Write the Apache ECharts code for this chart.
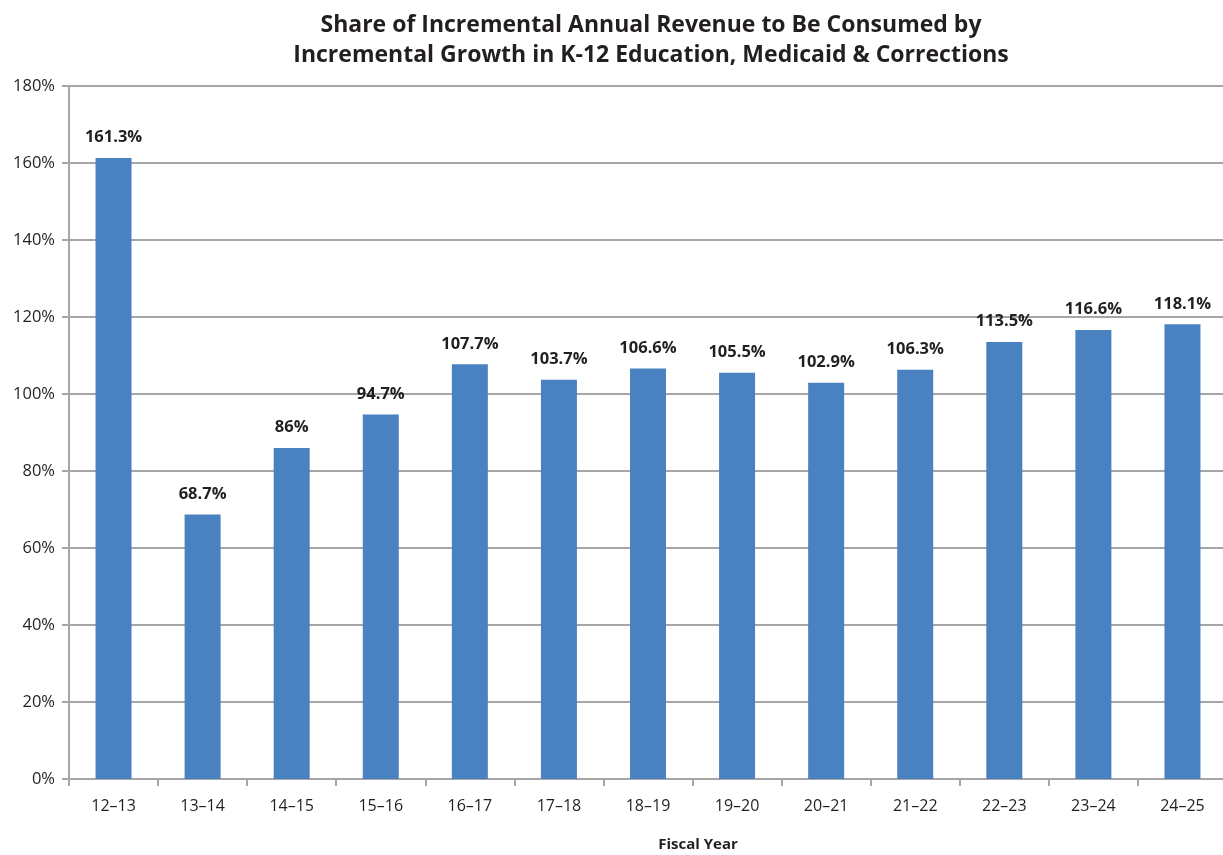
<!DOCTYPE html>
<html><head><meta charset="utf-8">
<script src="https://cdn.jsdelivr.net/npm/echarts@6/dist/echarts.min.js"></script>
<style>html,body{margin:0;padding:0;background:#fff}#c{width:1223px;height:855px}</style>
</head><body><div id="c"></div>
<script>
const categories = ['12–13','13–14','14–15','15–16','16–17','17–18','18–19','19–20','20–21','21–22','22–23','23–24','24–25'];
const values = [161.3, 68.7, 86, 94.7, 107.7, 103.7, 106.6, 105.5, 102.9, 106.3, 113.5, 116.6, 118.1];
const yTicks = [0, 20, 40, 60, 80, 100, 120, 140, 160, 180];
const titleText = 'Share of Incremental Annual Revenue to Be Consumed by\nIncremental Growth in K-12 Education, Medicaid & Corrections';
const xName = 'Fiscal Year';

const chart = echarts.init(document.getElementById('c'), null, {renderer: 'canvas'});
const font = '"Open Sans", "Noto Sans", sans-serif';
chart.setOption({
  animation: false,
  backgroundColor: '#fff',
  title: {
    text: titleText, left: 646, top: 5, textAlign: 'center',
    textStyle: {fontFamily: font, fontSize: 23, fontWeight: 'bold', color: '#231f20', lineHeight: 30}
  },
  grid: {left: 69, top: 86, width: 1158, height: 693, containLabel: false, outerBoundsMode: 'none'},
  xAxis: {
    type: 'category', data: categories,
    name: xName, nameLocation: 'middle', nameGap: 58,
    nameTextStyle: {fontFamily: font, fontSize: 15, fontWeight: 'bold', color: '#231f20', padding: [0, 0, 0, 100]},
    axisLine: {lineStyle: {color: '#a6a6a6', width: 2}},
    axisTick: {show: true, length: 7, lineStyle: {color: '#a6a6a6', width: 2}, alignWithLabel: false},
    axisLabel: {fontFamily: font, fontSize: 16, color: '#231f20', margin: 19}
  },
  yAxis: {
    type: 'value', min: yTicks[0], max: yTicks[yTicks.length - 1], interval: 20,
    axisLine: {show: true, lineStyle: {color: '#a6a6a6', width: 2}},
    axisTick: {show: true, length: 7, lineStyle: {color: '#a6a6a6', width: 2}},
    axisLabel: {fontFamily: font, fontSize: 16.5, color: '#231f20', margin: 14, formatter: v => v + '%'},
    splitLine: {lineStyle: {color: '#a6a6a6', width: 2}}
  },
  series: [{
    type: 'bar', data: values, barWidth: 36,
    itemStyle: {color: '#4a81c0'},
    label: {show: true, position: 'top', distance: 12, formatter: p => p.value + '%',
      fontFamily: font, fontSize: 16.5, fontWeight: 'bold', color: '#231f20'}
  }]
});
</script></body></html>
